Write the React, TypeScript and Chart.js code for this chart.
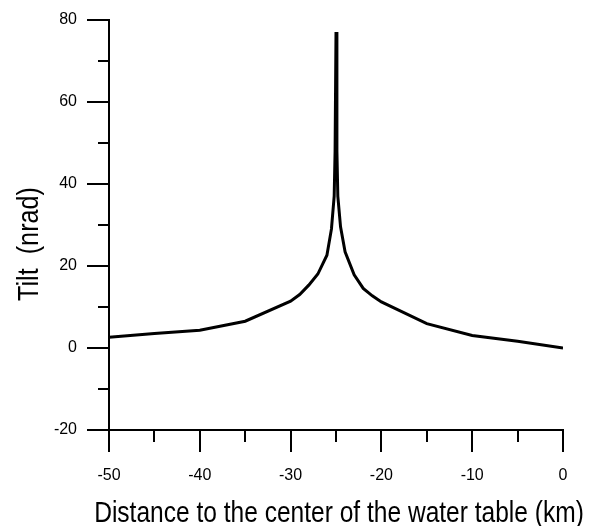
import React, { useEffect, useRef } from "react";
import { Chart, registerables } from "chart.js";

Chart.register(...registerables);

const distanceKm: number[] = [
  -50, -45, -40, -35, -30, -29, -28, -27, -26, -25.5, -25.2, -25.1, -25,
  -24.9, -24.8, -24.5, -24, -23, -22, -21, -20, -15, -10, -5, 0,
];
const tiltNrad: number[] = [
  2.6, 3.5, 4.3, 6.5, 11.4, 13.0, 15.3, 18.0, 22.6, 29, 37, 48, 77,
  48, 37, 29.5, 23.4, 17.8, 14.5, 12.7, 11.2, 5.9, 3.05, 1.6, 0.0,
];
const xMajorTicks: number[] = [-50, -40, -30, -20, -10, 0];
const xMinorTicks: number[] = [-45, -35, -25, -15, -5];
const yMajorTicks: number[] = [-20, 0, 20, 40, 60, 80];
const yMinorTicks: number[] = [-10, 10, 30, 50, 70];
const xTitle = "Distance to the center of the water table (km)";
const yTitle = "Tilt  (nrad)";

const TITLE_FONT = "30px 'Liberation Sans', Arial, sans-serif";
const X_TITLE_SQUEEZE = 0.818;
const Y_TITLE_SQUEEZE = 0.84;

const extrasPlugin = {
  id: "extras",
  afterDraw(chart: any) {
    const { ctx, scales } = chart;
    const xs = scales.x;
    const ys = scales.y;
    ctx.save();
    ctx.strokeStyle = "#000";
    ctx.lineWidth = 2;
    ctx.beginPath();
    for (const v of xMinorTicks) {
      const px = Math.round(xs.getPixelForValue(v));
      ctx.moveTo(px, xs.top);
      ctx.lineTo(px, xs.top + 12);
    }
    for (const v of yMinorTicks) {
      const py = Math.round(ys.getPixelForValue(v));
      ctx.moveTo(ys.right - 11, py);
      ctx.lineTo(ys.right, py);
    }
    ctx.stroke();

    ctx.fillStyle = "#000";
    ctx.font = TITLE_FONT;
    ctx.textAlign = "center";
    ctx.textBaseline = "alphabetic";

    // x-axis title
    ctx.save();
    ctx.translate(339, 522);
    ctx.scale(X_TITLE_SQUEEZE, 1);
    ctx.fillText(xTitle, 0, 0);
    ctx.restore();

    // y-axis title
    ctx.save();
    ctx.translate(37.5, 244);
    ctx.rotate(-Math.PI / 2);
    ctx.scale(Y_TITLE_SQUEEZE, 1);
    ctx.fillText(yTitle, 0, 0);
    ctx.restore();

    ctx.restore();
  },
};

export default function App() {
  const canvasRef = useRef<HTMLCanvasElement | null>(null);

  useEffect(() => {
    if (!canvasRef.current) return;
    const tickFont = { family: "'Liberation Sans', Arial, sans-serif", size: 16 };
    const chart = new Chart(canvasRef.current, {
      type: "line",
      data: {
        datasets: [
          {
            data: distanceKm.map((x, i) => ({ x, y: tiltNrad[i] })),
            borderColor: "#000",
            borderWidth: 3,
            pointRadius: 0,
            tension: 0,
            fill: false,
          },
        ],
      },
      plugins: [extrasPlugin],
      options: {
        animation: false,
        responsive: true,
        maintainAspectRatio: false,
        layout: { padding: { top: 15, right: 47, bottom: 0, left: 0 } },
        plugins: { legend: { display: false }, tooltip: { enabled: false } },
        scales: {
          x: {
            type: "linear",
            min: -50,
            max: 0,
            afterFit: (s: any) => {
              s.height = 96;
            },
            afterBuildTicks: (s: any) => {
              s.ticks = xMajorTicks.map((v) => ({ value: v }));
            },
            border: { display: true, color: "#000", width: 2 },
            grid: {
              display: true,
              drawOnChartArea: false,
              drawTicks: true,
              tickLength: 22,
              lineWidth: 2,
              color: "#000",
            },
            ticks: {
              color: "#000",
              font: tickFont,
              padding: 14,
              maxRotation: 0,
              callback: (v: any) => String(v),
            },
          },
          y: {
            type: "linear",
            min: -20,
            max: 80,
            afterFit: (s: any) => {
              s.width = 109;
            },
            afterBuildTicks: (s: any) => {
              s.ticks = yMajorTicks.map((v) => ({ value: v }));
            },
            border: { display: true, color: "#000", width: 2 },
            grid: {
              display: true,
              drawOnChartArea: false,
              drawTicks: true,
              tickLength: 22,
              lineWidth: 2,
              color: "#000",
            },
            ticks: {
              color: "#000",
              font: tickFont,
              padding: 10,
              callback: (v: any) => String(v),
            },
          },
        },
      },
    });
    return () => chart.destroy();
  }, []);

  return (
    <div style={{ position: "fixed", left: 0, top: 0, width: 610, height: 526, background: "#fff" }}>
      <canvas ref={canvasRef} />
    </div>
  );
}
